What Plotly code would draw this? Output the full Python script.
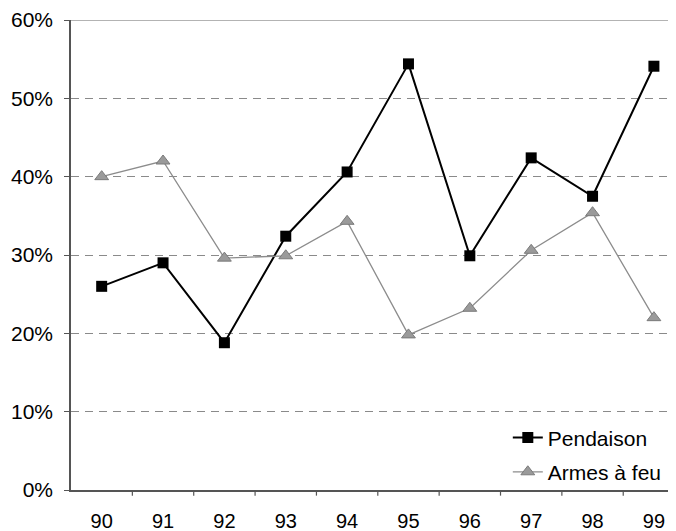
import plotly.graph_objects as go

years = ["90", "91", "92", "93", "94", "95", "96", "97", "98", "99"]
pendaison = [26.0, 29.0, 18.8, 32.4, 40.6, 54.4, 29.9, 42.4, 37.5, 54.1]
armes_a_feu = [40.0, 42.0, 29.6, 29.9, 34.3, 19.8, 23.2, 30.6, 35.4, 22.0]
y_ticks = [0, 10, 20, 30, 40, 50, 60]
y_labels = ["0%", "10%", "20%", "30%", "40%", "50%", "60%"]

xpos = list(range(len(years)))
font = "Liberation Sans, Arial, sans-serif"

fig = go.Figure()
fig.add_trace(go.Scatter(
    x=xpos, y=pendaison, name="Pendaison", mode="lines+markers",
    line=dict(color="#000000", width=2),
    marker=dict(symbol="square", size=11, color="#000000"),
    legend="legend",
))
fig.add_trace(go.Scatter(
    x=xpos, y=armes_a_feu, name="Armes à feu", mode="lines+markers",
    line=dict(color="#8c8c8c", width=1.3),
    marker=dict(symbol="triangle-up", size=12, color="#9a9a9a",
                line=dict(color="#7a7a7a", width=1)),
    legend="legend2",
))

# the page body adds an 8px offset, so the figure is 8px smaller and margins shifted
fig.update_layout(
    width=668, height=523,
    margin=dict(l=63, r=0, t=12, b=41),
    paper_bgcolor="white", plot_bgcolor="white",
    font=dict(family=font, color="#000000"),
    showlegend=True,
    legend=dict(x=0.722, y=0.111, xanchor="left", yanchor="middle",
                bgcolor="rgba(0,0,0,0)", font=dict(size=21, family=font)),
    legend2=dict(x=0.722, y=0.038, xanchor="left", yanchor="middle",
                 bgcolor="rgba(0,0,0,0)", font=dict(size=21, family=font)),
    xaxis=dict(
        tickmode="array", tickvals=xpos, ticktext=years,
        range=[-0.5, 9.36], showgrid=False, zeroline=False,
        showline=True, linecolor="#555555", linewidth=1.5,
        ticks="outside", ticklen=12, tickcolor="rgba(0,0,0,0)",
        tickfont=dict(size=20, family=font), automargin=False,
    ),
    yaxis=dict(
        tickmode="array", tickvals=y_ticks, ticktext=y_labels,
        range=[0, 60], showgrid=True, gridcolor="#8a8a8a", gridwidth=1,
        griddash="8px,6px", zeroline=False,
        showline=True, linecolor="#555555", linewidth=1.5,
        ticks="outside", ticklen=5, tickcolor="#555555", ticklabelstandoff=7,
        tickfont=dict(size=21, family=font), automargin=False,
    ),
)

# minor ticks between categories on the x axis
for b in [i + 0.5 for i in range(9)]:
    fig.add_shape(type="line", xref="x", yref="paper", x0=b, x1=b, y0=0, y1=-0.012,
                  line=dict(color="#555555", width=1.2))
# top border
fig.add_shape(type="line", xref="paper", yref="y", x0=0, x1=1, y0=60, y1=60,
              line=dict(color="#9a9a9a", width=1.5))

fig.write_html("out.html")
